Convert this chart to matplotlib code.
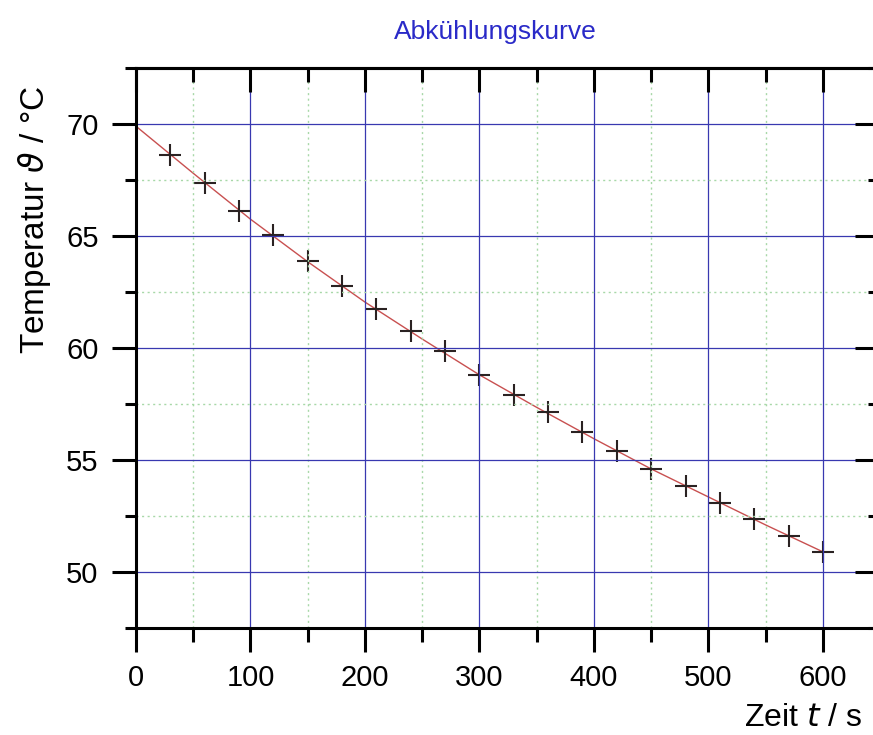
import matplotlib
matplotlib.use("Agg")
import matplotlib.pyplot as plt
from matplotlib.ticker import MultipleLocator

plt.rcParams['font.family'] = ['Liberation Sans', 'DejaVu Sans']
plt.rcParams['mathtext.fontset'] = 'dejavusans'

# measured points (time in s, temperature in degC)
zeit = [30, 60, 90, 120, 150, 180, 210, 240, 270, 300,
        330, 360, 390, 420, 450, 480, 510, 540, 570, 600]
temp = [68.6, 67.35, 66.1, 65.05, 63.9, 62.75, 61.75, 60.75, 59.85, 58.8,
        57.9, 57.15, 56.25, 55.4, 54.6, 53.85, 53.1, 52.35, 51.6, 50.9]

# fitted cooling curve
fit_zeit = [0, 50, 100, 150, 200, 250, 300, 350, 400, 450, 500, 550, 600]
fit_temp = [69.9, 67.8, 65.75, 63.85, 62.05, 60.4, 58.8, 57.35, 55.95,
            54.6, 53.35, 52.1, 50.9]

fig = plt.figure(figsize=(8.73, 7.35), dpi=100)
ax = fig.add_axes([136/873, 107/735, 743/873, 560/735])

# grid sits at zorder 0.5, the marks go underneath it like in the original
ax.set_axisbelow(True)
ax.plot(fit_zeit, fit_temp, color='#c85050', lw=1.0, zorder=0.3)
ax.plot(zeit, temp, ls='none', marker='+', ms=16, mew=1.5,
        color='#2a2222', zorder=0.3)

ax.set_xlim(0, 649)
ax.set_ylim(47.5, 72.5)
ax.xaxis.set_major_locator(MultipleLocator(100))
ax.xaxis.set_minor_locator(MultipleLocator(50))
ax.yaxis.set_major_locator(MultipleLocator(5))
ax.yaxis.set_minor_locator(MultipleLocator(2.5))

ax.grid(which='major', color='#3838b0', lw=0.9)
ax.grid(which='minor', color='#a8d8a8', lw=1.0, ls=(0, (1.5, 2.5)))

for s in ax.spines.values():
    s.set_linewidth(2.2)
    s.set_zorder(3)

ax.tick_params(which='both', width=2.2, labelsize=21, color='black')
ax.tick_params(axis='x', which='major', direction='out', length=17, pad=9)
ax.tick_params(axis='x', which='minor', direction='out', length=10)
ax.tick_params(axis='y', which='major', direction='out', length=17, pad=10)
ax.tick_params(axis='y', which='minor', direction='out', length=8)

# ticks on top and right point inwards
top = ax.secondary_xaxis('top')
top.set_zorder(3)
top.xaxis.set_major_locator(MultipleLocator(100))
top.xaxis.set_minor_locator(MultipleLocator(50))
top.tick_params(which='major', direction='in', length=17, width=2.2, labeltop=False)
top.tick_params(which='minor', direction='in', length=10, width=2.2)
top.spines['top'].set_linewidth(2.2)
right = ax.secondary_yaxis('right')
right.set_zorder(3)
right.yaxis.set_major_locator(MultipleLocator(5))
right.yaxis.set_minor_locator(MultipleLocator(2.5))
right.tick_params(which='major', direction='in', length=17, width=2.2, labelright=False)
right.tick_params(which='minor', direction='in', length=8, width=2.2)

fig.text(495/873, 1 - 32/735, 'Abkühlungskurve', color='#2a2ac8',
         fontsize=19, ha='center', va='center')
fig.text(35/873, 1 - 220/735, r'Temperatur $\vartheta$ / °C', fontsize=24,
         rotation=90, ha='center', va='center')
fig.text(862/873, 1 - 718/735, r'Zeit $t$ / s', fontsize=23,
         ha='right', va='center')

fig.savefig('out.png', dpi=100)
